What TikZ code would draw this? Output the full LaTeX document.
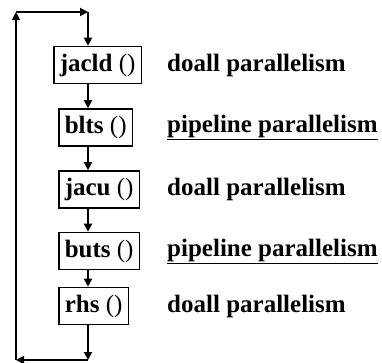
\documentclass[tikz,border=0pt]{standalone}
\usepackage{fontspec}
\setmainfont{Liberation Serif}
\usepackage{tikz}
\usetikzlibrary{arrows.meta}
\tikzstyle{func} = [rectangle, draw=black, line width=1.6pt, anchor=west, minimum height=37pt, inner xsep=6pt, font=\fontsize{25}{28}\selectfont]
\tikzstyle{kind} = [anchor=west, inner sep=0pt, font=\fontsize{25}{28}\selectfont\bfseries]
\tikzstyle{arrow} = [line width=1.8pt,-{Triangle[length=8pt,width=8pt]}]
\newcommand{\uline}[1]{\underline{#1}}

\begin{document}
\begin{tikzpicture}[x=1pt, y=-1pt]
\useasboundingbox (0,0) rectangle (382,362);
\node (jacld) [func] at (53,65) {\textbf{jacld} ()};
\node (blts) [func] at (58,127.5) {\textbf{blts} ()};
\node (jacu) [func] at (58,189.5) {\textbf{jacu} ()};
\node (buts) [func] at (58,251) {\textbf{buts} ()};
\node (rhs) [func] at (58,306) {\textbf{rhs} ()};

\node (k1) [kind] at (167,65) {doall parallelism};
\node (k2) [kind] at (167,127.5) {\uline{pipeline parallelism}};
\node (k3) [kind] at (167,189.5) {doall parallelism};
\node (k4) [kind] at (167,251) {\uline{pipeline parallelism}};
\node (k5) [kind] at (167,306) {doall parallelism};

% loop back
\coordinate (tl) at (16,12);
\coordinate (tr) at (88,12);
\coordinate (bl) at (16,360);
\coordinate (br) at (88,360);

\draw [arrow] (tr) -- (jacld.north -| tr);
\draw [arrow] (jacld.south -| tr) -- (blts.north -| tr);
\draw [arrow] (blts.south -| tr) -- (jacu.north -| tr);
\draw [arrow] (jacu.south -| tr) -- (buts.north -| tr);
\draw [arrow] (buts.south -| tr) -- (rhs.north -| tr);
\draw [arrow] (rhs.south -| br) -- (br);
\draw [arrow] (br) -- (bl);
\draw [arrow] (bl) -- (tl);
\draw [arrow] (tl) -- (tr);

\end{tikzpicture}
\end{document}
